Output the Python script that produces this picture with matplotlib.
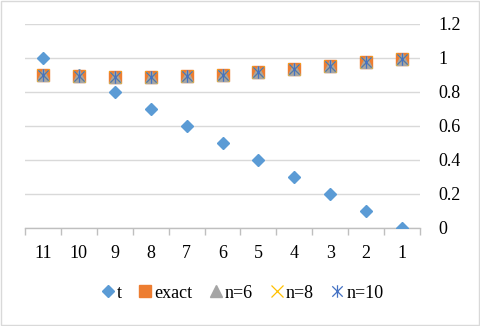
import matplotlib.pyplot as plt
from matplotlib.path import Path
from matplotlib.patches import Rectangle

plt.rcParams['font.family'] = ['Liberation Serif', 'DejaVu Serif']

# categories shown left to right
cats = ['11', '10', '9', '8', '7', '6', '5', '4', '3', '2', '1']
t_vals = [1.0, 0.9, 0.8, 0.7, 0.6, 0.5, 0.4, 0.3, 0.2, 0.1, 0.0]
exact = [0.900, 0.894, 0.888, 0.888, 0.894, 0.902, 0.916, 0.933, 0.953, 0.975, 0.997]
n6 = exact[:]
n8 = exact[:]
n10 = exact[:]

# x plus vertical bar marker (excel style star)
star = Path([(-1, -1), (1, 1), (-1, 1), (1, -1), (0, -1.2), (0, 1.2)],
            [Path.MOVETO, Path.LINETO, Path.MOVETO, Path.LINETO, Path.MOVETO, Path.LINETO])

fig = plt.figure(figsize=(4.8, 3.26), dpi=100)
ax = fig.add_axes([25 / 480, 1 - 228 / 326, 395 / 480, 204 / 326])

x = list(range(len(cats)))
ax.plot(x, t_vals, ls='none', marker='D', ms=6.6, color='#5B9BD5', label='t', zorder=3)
ax.plot(x, exact, ls='none', marker='s', ms=9, color='#ED7D31', label='exact', zorder=4)
ax.plot(x, n6, ls='none', marker='^', ms=8, color='#A5A5A5', label='n=6', zorder=5)
ax.plot(x, n8, ls='none', marker='x', ms=8, mew=0.9, color='#FFC000', label='n=8', zorder=6)
ax.plot(x, n10, ls='none', marker=star, ms=9, mew=0.9, color='#4472C4', label='n=10', zorder=7)

ax.set_xlim(-0.5, len(cats) - 0.5)
ax.set_ylim(0, 1.2)
ax.set_yticks([0, 0.2, 0.4, 0.6, 0.8, 1.0, 1.2])
ax.set_yticklabels(['0', '0.2', '0.4', '0.6', '0.8', '1', '1.2'])
ax.yaxis.tick_right()
ax.tick_params(axis='y', length=0, pad=13, labelsize=13)
ax.set_xticks(x)
ax.set_xticklabels(cats)
ax.set_xticks([i - 0.5 for i in range(len(cats) + 1)], minor=True)
ax.tick_params(axis='x', which='major', length=0, pad=12, labelsize=13)
ax.tick_params(axis='x', which='minor', length=5, width=1, color='#BFBFBF')
ax.grid(axis='y', color='#D9D9D9', lw=1)
ax.set_axisbelow(True)
for s in ['top', 'left', 'right']:
    ax.spines[s].set_visible(False)
ax.spines['bottom'].set_color('#BFBFBF')
ax.spines['bottom'].set_linewidth(1)

fig.legend(loc='center', bbox_to_anchor=(242 / 480, 1 - 293 / 326), ncol=5, frameon=False,
           fontsize=13, handlelength=0.8, handletextpad=0.1, columnspacing=0.9,
           borderaxespad=0)

fig.patches.append(Rectangle((0.002, 0.003), 0.995, 0.994, transform=fig.transFigure,
                             fill=False, edgecolor='#D9D9D9', lw=1))

fig.savefig('out.png', dpi=100)
